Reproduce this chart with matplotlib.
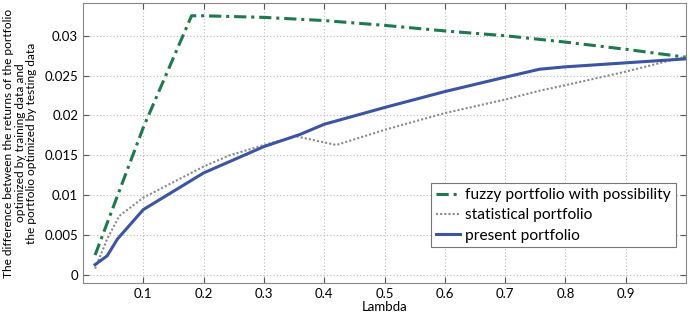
import matplotlib
matplotlib.use("Agg")
import matplotlib.pyplot as plt

# lambda values and the three curves
lam_fuzzy = [0.02, 0.1, 0.18, 0.2, 0.3, 0.4, 0.5, 0.6, 0.7, 0.8, 0.9, 1.0]
fuzzy = [0.0025, 0.0185, 0.0325, 0.0325, 0.0323, 0.0319, 0.0313, 0.0306, 0.0300, 0.0292, 0.0283, 0.0273]

lam_stat = [0.02, 0.04, 0.06, 0.1, 0.2, 0.243, 0.3, 0.353, 0.42, 0.5, 0.6, 0.7, 0.757, 0.8, 0.9, 1.0]
stat = [0.0008, 0.0045, 0.0074, 0.0097, 0.0136, 0.0150, 0.0163, 0.0174, 0.0163, 0.0182, 0.0203, 0.0220,
        0.0231, 0.0238, 0.0255, 0.0274]

lam_present = [0.02, 0.04, 0.057, 0.1, 0.2, 0.3, 0.359, 0.4, 0.5, 0.6, 0.7, 0.757, 0.8, 0.9, 1.0]
present = [0.0013, 0.0024, 0.0045, 0.0082, 0.0128, 0.0161, 0.0176, 0.0189, 0.0210, 0.0230, 0.0248,
           0.0258, 0.0261, 0.0266, 0.0271]

xticks = [0.1, 0.2, 0.3, 0.4, 0.5, 0.6, 0.7, 0.8, 0.9]
yticks = [0, 0.005, 0.01, 0.015, 0.02, 0.025, 0.03]
ytick_labels = ["0", "0.005", "0.01", "0.015", "0.02", "0.025", "0.03"]

plt.rcParams["font.family"] = ["Lato", "DejaVu Sans"]

fig = plt.figure(figsize=(6.9, 3.14), dpi=100)
ax = fig.add_axes([0.1203, 0.0987, 0.874, 0.8917])

ax.plot(lam_fuzzy, fuzzy, color="#1e7a4e", lw=2.2, linestyle=(0, (4, 1.6, 1, 1.6)),
        label="fuzzy portfolio with possibility")
ax.plot(lam_stat, stat, color="#8a8a8a", lw=1.5, linestyle=(0, (1, 1)),
        label="statistical portfolio")
ax.plot(lam_present, present, color="#3b54a3", lw=2.2, label="present portfolio")

ax.set_xlim(0, 1)
ax.set_ylim(-0.001, 0.0341)
ax.set_xticks(xticks)
ax.set_xticklabels([str(t) for t in xticks])
ax.set_yticks(yticks)
ax.set_yticklabels(ytick_labels)
ax.tick_params(direction="in", top=True, right=True, labelsize=9.5, color="#555555", length=4)
ax.grid(True, linestyle=(0, (1, 2)), color="#bbbbbb", lw=0.8)
for s in ax.spines.values():
    s.set_color("#888888")

ax.set_xlabel("Lambda", fontsize=9.5, labelpad=1)
ax.set_ylabel("The difference between the returns of the portfolio\n"
              "optimized by training data and\n"
              "the portfolio optimized by testing data",
              fontsize=8.6, linespacing=1.05, labelpad=5)

leg = ax.legend(loc="lower right", bbox_to_anchor=(0.9955, 0.1), fontsize=11.2,
                fancybox=False, edgecolor="#777777", framealpha=1,
                handlelength=1.6, handletextpad=0.3, borderpad=0.3, labelspacing=0.4)
leg.get_frame().set_linewidth(0.8)

fig.savefig("out.png", dpi=100)
